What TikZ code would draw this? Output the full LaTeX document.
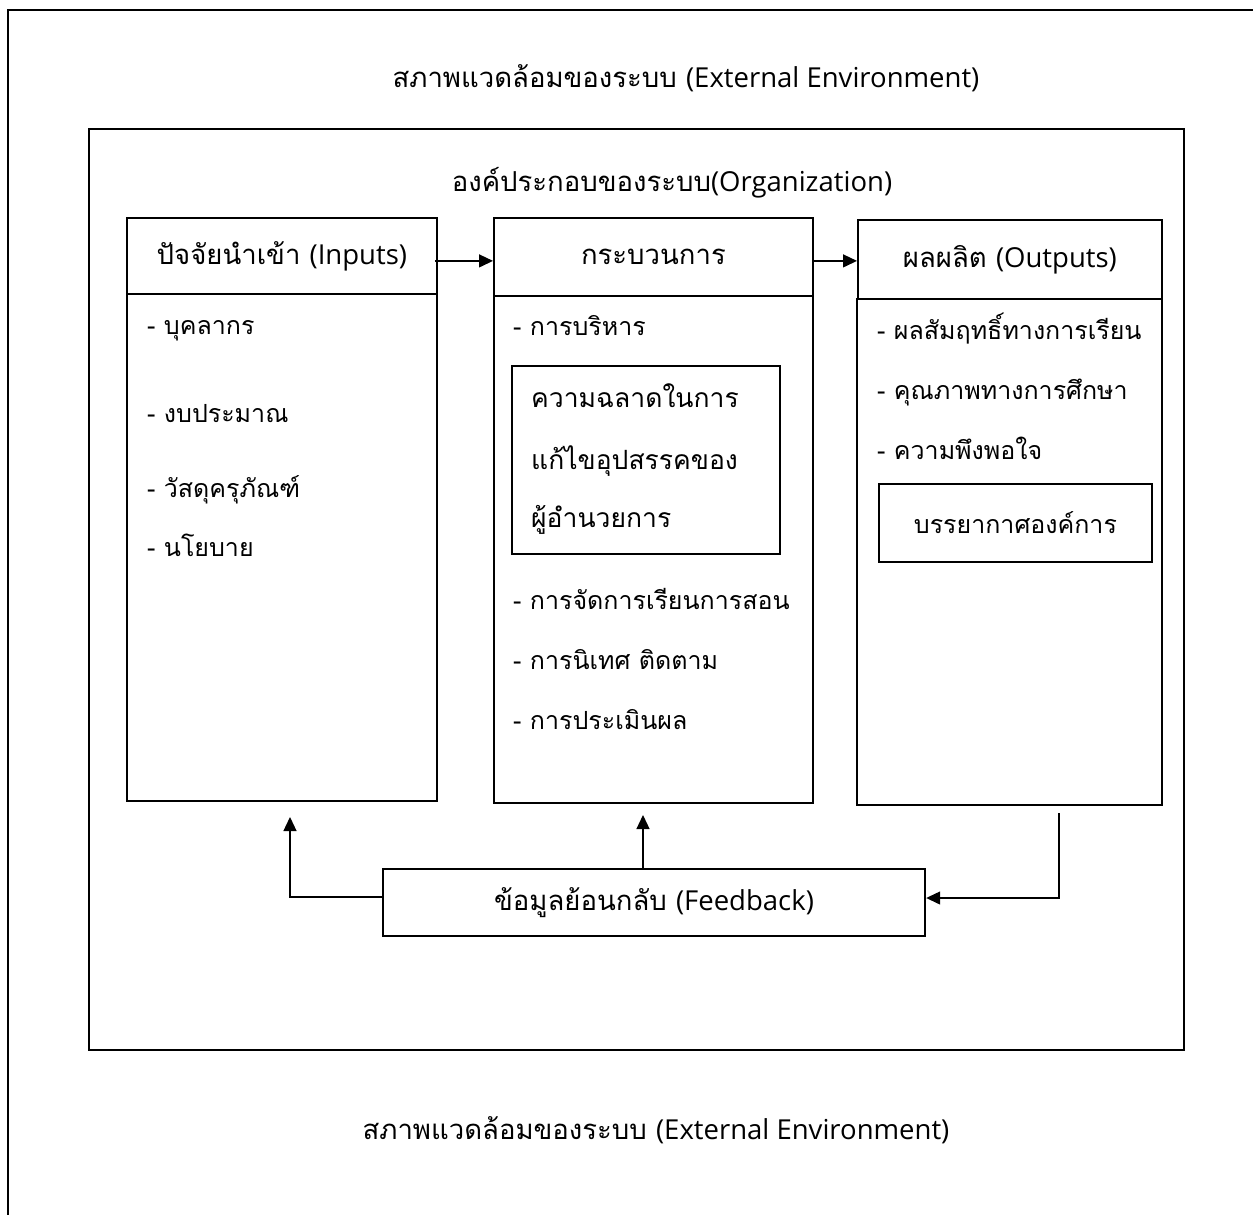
\documentclass[tikz,border=0pt]{standalone}
\usepackage{fontspec}
\setmainfont[Script=Thai]{Loma}
\newfontfamily\lat{Open Sans}
\usetikzlibrary{arrows.meta,calc}
\begin{document}
\begin{tikzpicture}[x=1pt,y=-1pt,
  box/.style={draw,line width=1.8pt,inner sep=0pt,anchor=north west},
  txt/.style={inner sep=0pt,font=\fontsize{25}{29}\selectfont},
  lbl/.style={inner sep=0pt,font=\fontsize{27.5}{32}\selectfont},
  item/.style={txt,anchor=mid west},
  arr/.style={line width=1.3pt,-{Triangle[length=14pt,width=13pt]}}]
\useasboundingbox (0,0) rectangle (1253,1215);
% outer environment
\draw[line width=2pt] (8,1215) -- (8,10) -- (1253,10);
\node[lbl] (envtop) at (686,78) {สภาพแวดล้อมของระบบ {\lat (External Environment)}};
\node[lbl] (envbot) at (656,1130) {สภาพแวดล้อมของระบบ {\lat (External Environment)}};
% organization
\node[box,minimum width=1095pt,minimum height=921pt] (org) at (88,128) {};
\node[lbl] (orgl) at (672,183) {องค์ประกอบของระบบ{\lat (Organization)}};
% inputs
\node[box,minimum width=310pt,minimum height=76pt,lbl,draw,line width=1.8pt,anchor=north west] (inh) at (126,217) {ปัจจัยนำเข้า {\lat (Inputs)}};
\node[box,minimum width=310pt,minimum height=507pt] (inb) at (126,293) {};
\node[item] (i1) at (147,332) {- บุคลากร};
\node[item] (i2) at (147,420) {- งบประมาณ};
\node[item] (i3) at (147,495) {- วัสดุครุภัณฑ์};
\node[item] (i4) at (147,554) {- นโยบาย};
% process
\node[box,minimum width=319pt,minimum height=78pt,lbl,draw,line width=1.8pt,anchor=north west] (prh) at (493,217) {กระบวนการ};
\node[box,minimum width=319pt,minimum height=507pt] (prb) at (493,295) {};
\node[item] (p1) at (513,333) {- การบริหาร};
\node[box,minimum width=268pt,minimum height=188pt] (pin) at (511,365) {};
\node[item,font=\fontsize{26.5}{30}\selectfont] (q1) at (531,405) {ความฉลาดในการ};
\node[item,font=\fontsize{26.5}{30}\selectfont] (q2) at (531,467) {แก้ไขอุปสรรคของ};
\node[item,font=\fontsize{26.5}{30}\selectfont] (q3) at (531,525) {ผู้อำนวยการ};
\node[item] (p2) at (513,607) {- การจัดการเรียนการสอน};
\node[item] (p3) at (513,667) {- การนิเทศ ติดตาม};
\node[item] (p4) at (513,727) {- การประเมินผล};
% outputs
\node[box,minimum width=304pt,minimum height=79pt,lbl,draw,line width=1.8pt,anchor=north west] (ouh) at (857,219) {ผลผลิต {\lat (Outputs)}};
\node[box,minimum width=305pt,minimum height=506pt] (oub) at (856,298) {};
\node[item] (o1) at (877,337) {- ผลสัมฤทธิ์ทางการเรียน};
\node[item] (o2) at (877,397) {- คุณภาพทางการศึกษา};
\node[item] (o3) at (877,457) {- ความพึงพอใจ};
\node[box,minimum width=273pt,minimum height=78pt] (oin) at (878,483) {};
\node[txt] (o4) at (oin.center) {บรรยากาศองค์การ};
% feedback
\node[draw,line width=2.4pt,inner sep=0pt,minimum width=542pt,minimum height=67pt,lbl] (fb) at (654,902.5) {ข้อมูลย้อนกลับ {\lat (Feedback)}};
% arrows
\draw[arr] ([xshift=-3pt,yshift=-5pt]inh.east) -- ([yshift=-5pt]inh.east -| prh.west);
\draw[arr] ([yshift=-4pt]prh.east) -- ([yshift=-4pt]prh.east -| ouh.west);
\coordinate (tl) at (290,817);
\coordinate (tm) at (643,815);
\coordinate (rs) at (1059,813);
\draw[arr] ([yshift=5.5pt]fb.west) -| (tl);
\draw[arr] (fb.north -| tm) -- (tm);
\draw[arr] (rs) |- ([yshift=4.5pt]fb.east);
\end{tikzpicture}
\end{document}
